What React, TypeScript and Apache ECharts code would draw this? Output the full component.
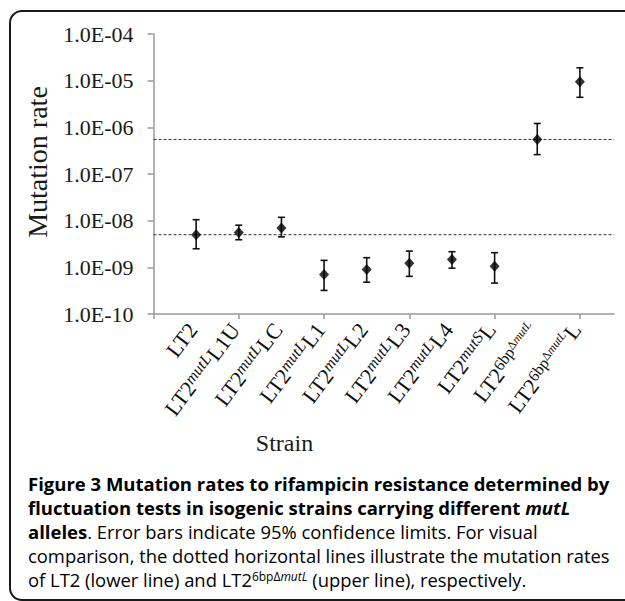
import React, { useEffect, useRef } from "react";
import * as echarts from "echarts";

// ---- data ----
const strainX = [1, 2, 3, 4, 5, 6, 7, 8, 9, 10];
const strainBase = ["LT2", "LT2", "LT2", "LT2", "LT2", "LT2", "LT2", "LT2", "LT2", "LT2"];
const strainSup = ["", "mutL", "mutL", "mutL", "mutL", "mutL", "mutL", "mutS", "6bpΔmutL", "6bpΔmutL"];
const strainSuffix = ["", "L1U", "LC", "L1", "L2", "L3", "L4", "L", "", "L"];
const mutationRate = [5.0e-9, 5.6e-9, 7.0e-9, 7.0e-10, 9.0e-10, 1.23e-9, 1.48e-9, 1.05e-9, 5.5e-7, 9.5e-6];
const lowerLimit = [2.5e-9, 3.9e-9, 4.5e-9, 3.2e-10, 4.8e-10, 6.4e-10, 9.6e-10, 4.6e-10, 2.6e-7, 4.4e-6];
const upperLimit = [1.05e-8, 8.0e-9, 1.18e-8, 1.41e-9, 1.61e-9, 2.23e-9, 2.16e-9, 2.06e-9, 1.21e-6, 1.89e-5];
const yTickLabels = ["1.0E-10", "1.0E-09", "1.0E-08", "1.0E-07", "1.0E-06", "1.0E-05", "1.0E-04"];
const xTickValues = [0, 2, 4, 6, 8, 10];
const xAxisMin = 0;
const xAxisMax = 10.8;
const lowerLine = mutationRate[0];
const upperLine = mutationRate[8];

const captionLines = [
  "{b|Figure 3 Mutation rates to rifampicin resistance determined by}",
  "{b|fluctuation tests in isogenic strains carrying different }{bi|mutL}",
  "{b|alleles}{r|. Error bars indicate 95% confidence limits. For visual}",
  "{r|comparison, the dotted horizontal lines illustrate the mutation rates}",
  "{r|of LT2 (lower line) and LT2}{rs|6bpΔ}{rsi|mutL}{r| (upper line), respectively.}",
];
const captionBaselines = [490, 514, 538.3, 562, 586];

const SERIF = "'Liberation Serif', 'Times New Roman', serif";
const SANS = "'Open Sans', Lato, sans-serif";
const INK = "#111111";

function strainLabel(i: number): string {
  const sup = strainSup[i];
  let s = `{m|${strainBase[i]}}`;
  if (sup.startsWith("6bp")) {
    s += `{s|6bp}{sd|Δ}{sdi|mutL}`;
  } else if (sup) {
    s += `{si|${sup}}`;
  }
  if (strainSuffix[i]) s += `{m|${strainSuffix[i]}}`;
  return s;
}

export default function App() {
  const ref = useRef<HTMLDivElement>(null);
  useEffect(() => {
    if (!ref.current) return;
    const chart = echarts.init(ref.current, undefined, { renderer: "svg" });
    const axisColor = "#9a9a9a";
    const refLine = (name: string, v: number) => ({
      type: "line",
      name,
      data: [
        [xAxisMin, v],
        [xAxisMax, v],
      ],
      symbol: "none",
      silent: true,
      itemStyle: { color: "#333" },
      lineStyle: { type: [3, 2], color: "#333", width: 1 },
      z: 2,
    });
    const option: any = {
      animation: false,
      color: ["#333333"],
      backgroundColor: "#ffffff",
      textStyle: { color: INK },
      grid: { left: 153.5, right: 11, top: 34, bottom: 287 },
      xAxis: {
        type: "value",
        min: xAxisMin,
        max: xAxisMax,
        interval: 2,
        splitLine: { show: false },
        axisLine: { lineStyle: { color: axisColor, width: 1.5 } },
        axisTick: {
          show: true,
          length: 5,
          customValues: xTickValues,
          lineStyle: { color: axisColor, width: 1.5 },
        },
        axisLabel: {
          show: true,
          customValues: strainX,
          rotate: 53,
          margin: 7,
          padding: [0, 6, 0, 0],
          color: INK,
          formatter: (v: number) => {
            const i = strainX.indexOf(Math.round(v));
            return i >= 0 ? strainLabel(i) : "";
          },
          rich: {
            m: { fontFamily: SERIF, fontSize: 22, color: INK, lineHeight: 24 },
            si: { fontFamily: SERIF, fontSize: 16, fontStyle: "italic", color: INK, verticalAlign: "top", lineHeight: 16 },
            s: { fontFamily: SERIF, fontSize: 16, color: INK, verticalAlign: "top", lineHeight: 16 },
            sd: { fontFamily: SERIF, fontSize: 12, color: INK, verticalAlign: "top", lineHeight: 16 },
            sdi: { fontFamily: SERIF, fontSize: 12, fontStyle: "italic", color: INK, verticalAlign: "top", lineHeight: 16 },
          },
        },
      },
      yAxis: {
        type: "log",
        logBase: 10,
        min: 1e-10,
        max: 1e-4,
        interval: 1,
        splitLine: { show: false },
        axisLine: { show: true, lineStyle: { color: axisColor, width: 1.5 } },
        axisTick: { show: true, length: 6, lineStyle: { color: axisColor, width: 1.5 } },
        axisLabel: {
          margin: 20,
          color: "#1a1a1a",
          fontFamily: SERIF,
          fontSize: 22,
          formatter: (v: number) => {
            const e = Math.round(Math.log10(v));
            return yTickLabels[e + 10] ?? "";
          },
        },
      },
      series: [
        refLine("LT2 rate", lowerLine),
        refLine("LT2 6bpΔmutL rate", upperLine),
        {
          type: "custom",
          name: "95% CI",
          data: strainX.map((x, i) => [x, lowerLimit[i], upperLimit[i]]),
          encode: { x: 0, y: [1, 2] },
          itemStyle: { color: INK },
          renderItem: (params: any, api: any) => {
            const x = api.value(0);
            const lo = api.coord([x, api.value(1)]);
            const hi = api.coord([x, api.value(2)]);
            const half = 3.5;
            const st = { stroke: INK, lineWidth: 1.6 };
            return {
              type: "group",
              children: [
                { type: "line", shape: { x1: lo[0], y1: lo[1], x2: hi[0], y2: hi[1] }, style: st },
                { type: "line", shape: { x1: lo[0] - half, y1: lo[1], x2: lo[0] + half, y2: lo[1] }, style: st },
                { type: "line", shape: { x1: hi[0] - half, y1: hi[1], x2: hi[0] + half, y2: hi[1] }, style: st },
              ],
            };
          },
          z: 3,
        },
        {
          type: "scatter",
          name: "Mutation rate",
          data: strainX.map((x, i) => [x, mutationRate[i]]),
          symbol: "diamond",
          symbolSize: [10, 11],
          itemStyle: { color: "#000" },
          z: 4,
        },
      ],
      graphic: [
        {
          type: "rect",
          shape: { x: 10, y: 11, width: 700, height: 589, r: 12 },
          style: { fill: "none", stroke: "#1a1a1a", lineWidth: 2 },
          silent: true,
          z: 0,
        },
        {
          type: "text",
          x: 37,
          y: 162,
          rotation: Math.PI / 2,
          style: {
            text: "Mutation rate",
            font: `28px ${SERIF}`,
            fill: "#1a1a1a",
            align: "center",
            verticalAlign: "middle",
          },
        },
        {
          type: "text",
          x: 284.5,
          y: 443,
          style: {
            text: "Strain",
            font: `24px ${SERIF}`,
            fill: "#1a1a1a",
            align: "center",
            verticalAlign: "middle",
          },
        },
        ...captionLines.map((t, i) => ({
          type: "text",
          x: 28,
          y: captionBaselines[i] - 7,
          style: {
            text: t,
            align: "left",
            verticalAlign: "middle",
            rich: {
              b: { fontFamily: SANS, fontSize: 18.5, fontWeight: "bold", color: INK },
              bi: { fontFamily: SANS, fontSize: 18.5, fontWeight: "bold", fontStyle: "italic", color: INK },
              r: { fontFamily: SANS, fontSize: 18.4, color: "#333" },
              rs: { fontFamily: SANS, fontSize: 12, color: "#333", verticalAlign: "top", lineHeight: 12 },
              rsi: { fontFamily: SANS, fontSize: 12, fontStyle: "italic", color: "#333", verticalAlign: "top", lineHeight: 12 },
            },
          },
        })),
      ],
    };
    chart.setOption(option);
    return () => chart.dispose();
  }, []);
  return (
    <div
      ref={ref}
      style={{ position: "absolute", left: 0, top: 0, width: 625, height: 601, background: "#fff" }}
    />
  );
}
